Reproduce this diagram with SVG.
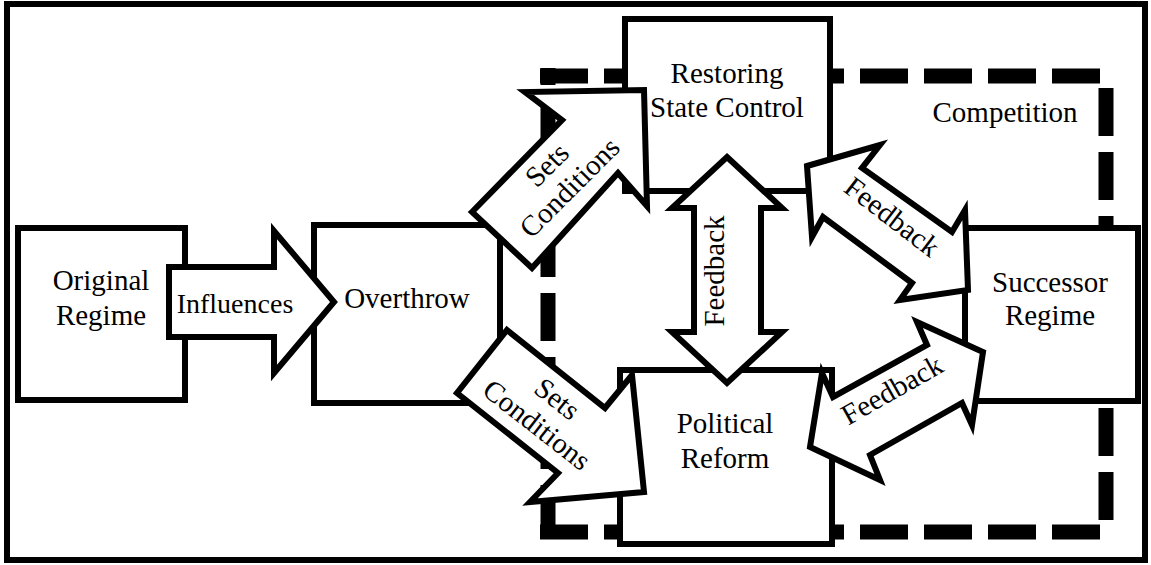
<svg xmlns="http://www.w3.org/2000/svg" width="1151" height="565" viewBox="0 0 1151 565">
  <style>
    .frame { fill: #fff; stroke: #000; stroke-width: 6; }
    .box { fill: #fff; stroke: #000; stroke-width: 6; }
    .arrow { fill: #fff; stroke: #000; stroke-width: 6; stroke-linejoin: miter; stroke-miterlimit: 10; }
    .zone { fill: none; stroke: #000; stroke-width: 15; stroke-dasharray: 48 16; }
    text { font-family: "Liberation Serif", "Times New Roman", serif; font-size: 29px; fill: #000; text-anchor: middle; }
  </style>

  <!-- outer frame -->
  <rect class="frame" x="7" y="4" width="1138" height="556"/>

  <!-- dashed competition zone, drawn as four separate sides -->
  <g id="competition">
    <line class="zone" x1="540" y1="76" x2="1100" y2="76"/>
    <line class="zone" x1="1106" y1="88" x2="1106" y2="520"/>
    <line class="zone" x1="540" y1="532" x2="1103" y2="532"/>
    <line class="zone" x1="548" y1="533" x2="548" y2="68"/>
    <text x="1005" y="122">Competition</text>
  </g>

  <!-- nodes -->
  <g id="original-regime">
    <rect class="box" x="18" y="228" width="167" height="172"/>
    <text x="101" y="290">Original</text>
    <text x="101" y="325">Regime</text>
  </g>
  <g id="overthrow">
    <rect class="box" x="314" y="225" width="186" height="178"/>
    <text x="407" y="308">Overthrow</text>
  </g>
  <g id="restoring-state-control">
    <rect class="box" x="625" y="19" width="205" height="172"/>
    <text x="727" y="83">Restoring</text>
    <text x="727" y="117">State Control</text>
  </g>
  <g id="political-reform">
    <rect class="box" x="620" y="370" width="212" height="174"/>
    <text x="725" y="433">Political</text>
    <text x="725" y="468">Reform</text>
  </g>
  <g id="successor-regime">
    <rect class="box" x="965" y="228" width="173" height="173"/>
    <text x="1050" y="292">Successor</text>
    <text x="1050" y="325">Regime</text>
  </g>

  <!-- connectors: block arrows -->
  <g id="connectors">
    <g id="influences">
      <polygon class="arrow" points="169,267 274,267 274,231 334,302 274,373 274,337 169,337"/>
      <text x="235" y="313" style="font-size:28px">Influences</text>
    </g>
    <g id="sets-conditions-upper">
      <polygon class="arrow" points="472,212 562,120 525,92 644,90 647,206 618,173 532,268"/>
      <g transform="translate(558,176) rotate(-45)">
        <text x="0" y="-6">Sets</text>
        <text x="0" y="26">Conditions</text>
      </g>
    </g>
    <g id="sets-conditions-lower">
      <polygon class="arrow" points="507,330 605,408 632,375 644,492 530,502 558,473 457,393"/>
      <g transform="translate(547,412) rotate(38)">
        <text x="0" y="-7">Sets</text>
        <text x="0" y="26">Conditions</text>
      </g>
    </g>
    <g id="feedback-vertical">
      <polygon class="arrow" points="727,157 782,208 761,208 761,332 782,332 727,383 672,332 694,332 694,208 672,208"/>
      <text transform="translate(724,271) rotate(-90)" x="0" y="0">Feedback</text>
    </g>
    <g id="feedback-upper">
      <polygon class="arrow" points="807,166 880,145 862,168 952,232 965,210 968,290 900,300 912,283 823,217 812,237"/>
      <text transform="translate(892,217) rotate(37.5)" x="0" y="9.5">Feedback</text>
    </g>
    <g id="feedback-lower">
      <polygon class="arrow" points="810,447 822,373 833,397 927,345 917,322 983,352 972,425 962,403 870,455 880,480"/>
      <text transform="translate(892,390) rotate(-29.5)" x="0" y="9.5">Feedback</text>
    </g>
  </g>
</svg>
